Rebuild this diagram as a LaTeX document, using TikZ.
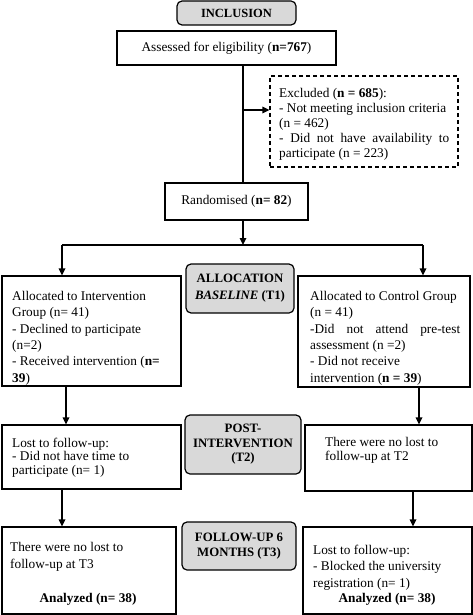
\documentclass[tikz,border=0pt]{standalone}
\usepackage{fontspec}
\setmainfont{Liberation Serif}
\usetikzlibrary{arrows.meta}
\newcommand\firstst{\rule{0pt}{10pt}}
\begin{document}
\begin{tikzpicture}[x=1pt,y=-1pt,
  box/.style={draw, line width=1.2pt, inner sep=0pt, fill=white, font=\fontsize{13.3}{16}\selectfont},
  dbox/.style={box, dash pattern=on 4pt off 3pt},
  graybox/.style={draw, line width=1.2pt, rounded corners=5pt, fill=gray!30, inner sep=0pt, align=center},
  txt/.style={anchor=north west, inner sep=0pt, align=left},
  arr/.style={line width=1.6pt, -{Triangle[length=7pt,width=6.5pt]}},
  ln/.style={line width=1.6pt}]
\useasboundingbox (0,0) rectangle (473,615);

% gray stage labels
\node[graybox, minimum width=119pt, minimum height=24pt, font=\bfseries\fontsize{12.5}{15}\selectfont] (incl) at (236.5,13) {INCLUSION};
\node[graybox, minimum width=108pt, minimum height=49pt, font=\bfseries\fontsize{12.8}{17}\selectfont] (alloc) at (240,288.5) {ALLOCATION\\\textit{BASELINE} (T1)};
\node[graybox, minimum width=116pt, minimum height=59pt, font=\bfseries\fontsize{12.8}{14.5}\selectfont] (post) at (243,444.5) {POST-\\INTERVENTION\\(T2)};
\node[graybox, minimum width=114pt, minimum height=48pt, font=\bfseries\fontsize{12.8}{15}\selectfont] (fu) at (239,546) {FOLLOW-UP 6\\MONTHS (T3)};

% boxes
\node[box, minimum width=219pt, minimum height=34pt] (assess) at (226.5,48) {Assessed for eligibility (\textbf{n=767})};
\node[dbox, minimum width=188pt, minimum height=91pt] (excl) at (364,121.5) {};
\node[box, minimum width=143pt, minimum height=37pt] (rand) at (236.5,201.5) {Randomised (\textbf{n= 82})};
\node[box, minimum width=179pt, minimum height=110pt] (int1) at (91.5,331) {};
\node[box, minimum width=172pt, minimum height=111pt] (ctl1) at (384,331.5) {};
\node[box, minimum width=179pt, minimum height=64pt] (int2) at (91.5,457) {};
\node[box, minimum width=167pt, minimum height=66pt] (ctl2) at (388.5,458) {};
\node[box, minimum width=174pt, minimum height=87pt] (int3) at (89,570.5) {};
\node[box, minimum width=169pt, minimum height=87pt] (ctl3) at (387.5,570.5) {};

% texts
\node[txt, font=\fontsize{13.3}{15}\selectfont] (exclt) at (279,87) {\firstst Excluded (\textbf{n = 685}):\\- Not meeting inclusion criteria\\(n = 462)\\\makebox[170pt][s]{- Did not have availability to}\\participate (n = 223)};
\node[txt, font=\fontsize{13.3}{16.4}\selectfont] (int1t) at (12,290) {\firstst Allocated to Intervention\\Group (n= 41)\\- Declined to participate\\(n=2)\\- Received intervention (\textbf{n=}\\\textbf{39})};
\node[txt, font=\fontsize{13.3}{16.4}\selectfont] (ctl1t) at (310,290) {\firstst Allocated to Control Group\\(n = 41)\\\makebox[150pt][s]{-Did not attend pre-test}\\assessment (n =2)\\- Did not receive\\intervention (\textbf{n = 39})};
\node[txt, font=\fontsize{13.3}{13.5}\selectfont] (int2t) at (12,437) {\firstst Lost to follow-up:\\- Did not have time to\\participate (n= 1)};
\node[txt, font=\fontsize{13.3}{14}\selectfont] (ctl2t) at (325,436) {\firstst There were no lost to\\follow-up at T2};
\node[txt, font=\fontsize{13.3}{17}\selectfont] (int3t) at (10,541) {\firstst There were no lost to\\follow-up at T3};
\node[font=\bfseries\fontsize{13.3}{16}\selectfont, inner sep=0pt] (int3a) at (88,599) {Analyzed (n= 38)};
\node[txt, font=\fontsize{13.3}{16.5}\selectfont] (ctl3t) at (313,544) {\firstst Lost to follow-up:\\- Blocked the university\\registration (n= 1)};
\node[font=\bfseries\fontsize{13.3}{16}\selectfont, inner sep=0pt] (ctl3a) at (387,599) {Analyzed (n= 38)};

% connectors
\coordinate (trunk) at (243,0);
\coordinate (exy) at (0,110);
\coordinate (splitL) at (62,245);
\coordinate (splitR) at (423,245);
\coordinate (cl1) at (66,0);
\coordinate (cr1) at (419,0);
\coordinate (cl2) at (62,0);
\coordinate (cr2) at (413,0);

\draw[ln] (trunk |- assess.south) -- (trunk |- rand.north);
\draw[arr] (trunk |- exy) -- (excl.west |- exy);
\draw[arr] (trunk |- rand.south) -- (trunk |- splitL);
\draw[ln] (splitL) -- (splitR);
\draw[arr] (splitL) -- (splitL |- int1.north);
\draw[arr] (splitR) -- (splitR |- ctl1.north);
\draw[arr] (cl1 |- int1.south) -- (cl1 |- int2.north);
\draw[arr] (cr1 |- ctl1.south) -- (cr1 |- ctl2.north);
\draw[arr] (cl2 |- int2.south) -- (cl2 |- int3.north);
\draw[arr] (cr2 |- ctl2.south) -- (cr2 |- ctl3.north);
\end{tikzpicture}
\end{document}
